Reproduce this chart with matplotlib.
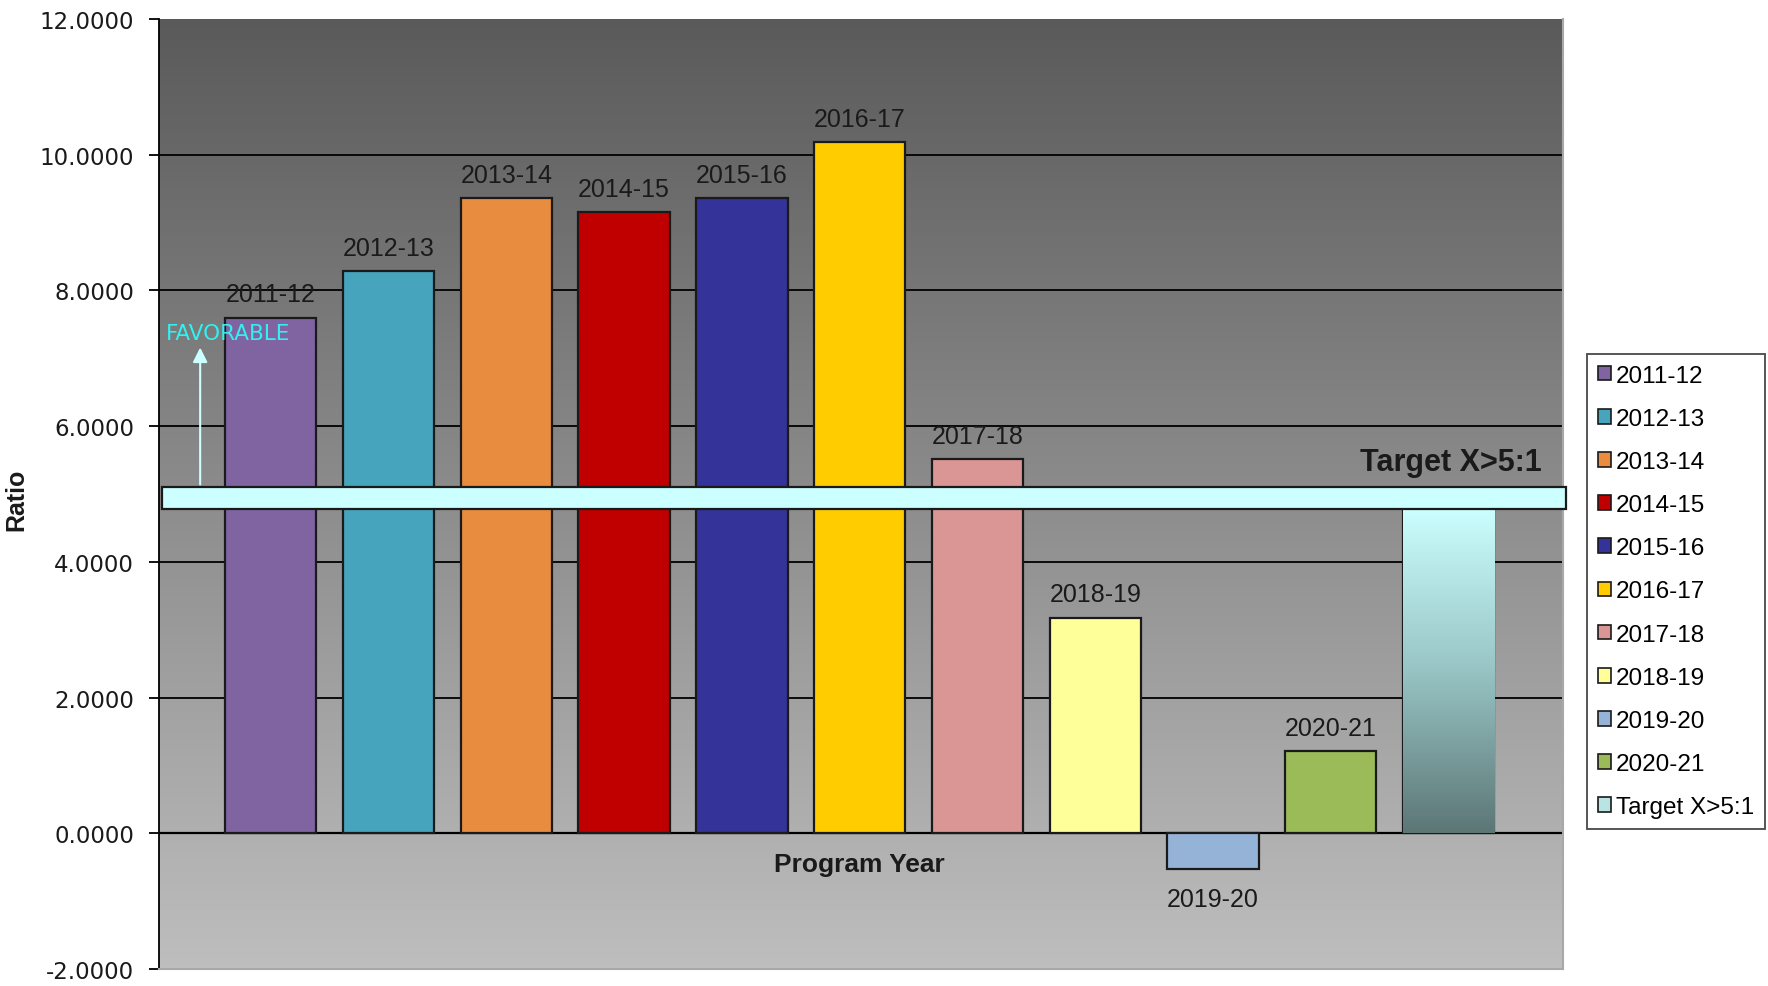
import numpy as np
import matplotlib
matplotlib.use('Agg')
import matplotlib.pyplot as plt
import matplotlib.transforms as mtransforms
from matplotlib.colors import LinearSegmentedColormap
from matplotlib.patches import Patch

plt.rcParams['font.family'] = ['Liberation Sans', 'DejaVu Sans']

# Data
years = ['2011-12', '2012-13', '2013-14', '2014-15', '2015-16', '2016-17',
         '2017-18', '2018-19', '2019-20', '2020-21', 'Target X>5:1']
ratios = [7.60, 8.28, 9.36, 9.15, 9.36, 10.19, 5.52, 3.18, -0.53, 1.21, 5.0]
colors = ['#8064a2', '#46a5bd', '#e88c40', '#c00000', '#333399', '#ffcc00',
          '#da9694', '#ffff99', '#95b3d7', '#9bbb59', '#b8e4e4']
target = 5.0
y_ticks = [-2, 0, 2, 4, 6, 8, 10, 12]

fig = plt.figure(figsize=(17.68, 9.87), dpi=100)
ax = fig.add_axes([0.0899, 0.0172, 0.794, 0.9625])

x = np.arange(len(years))
xlim = (-0.95, 10.97)
ylim = (-2, 12)
ax.set_xlim(xlim)
ax.set_ylim(ylim)

# plot area gradient background
bg_cmap = LinearSegmentedColormap.from_list('bg', ['#bebebe', '#5a5a5a'])
grad = np.linspace(0, 1, 256).reshape(-1, 1)
ax.imshow(grad, cmap=bg_cmap, origin='lower', aspect='auto',
          extent=[xlim[0], xlim[1], ylim[0], ylim[1]], zorder=0)

# gridlines
for t in [2, 4, 6, 8, 10]:
    ax.axhline(t, color='black', lw=1.3, zorder=1)
ax.axhline(0, color='black', lw=1.6, zorder=1)

bars = ax.bar(x, ratios, width=0.775, color=colors, edgecolor='#1a1a1a',
              linewidth=1.6, zorder=2)

# gradient fill for the target bar
tb = bars[-1]
tb.set_facecolor('none')
tcmap = LinearSegmentedColormap.from_list('tg', ['#5c7676', '#98c4c4', '#ccffff'])
im = ax.imshow(grad, cmap=tcmap, origin='lower', aspect='auto',
               extent=[tb.get_x(), tb.get_x() + tb.get_width(), 0, 4.8],
               zorder=2)
im.set_clip_path(tb)

# value labels (category names)
for xi, v, name in zip(x[:-1], ratios[:-1], years[:-1]):
    if v >= 0:
        ax.annotate(name, (xi, v), xytext=(0, 8), textcoords='offset points',
                    ha='center', va='bottom', fontsize=18, color='#1a1a1a', zorder=5)
    else:
        ax.annotate(name, (xi, v), xytext=(0, -13), textcoords='offset points',
                    ha='center', va='top', fontsize=18, color='#1a1a1a', zorder=5)

# target band
ax.axhspan(target - 0.22, target + 0.1, xmin=0.002, xmax=1.002,
           facecolor='#ccffff', edgecolor='#1a1a1a', lw=1.6, zorder=3, clip_on=False)

# favorable arrow
ax.annotate('', xy=(-0.6, 7.2), xytext=(-0.6, target + 0.1),
            arrowprops=dict(arrowstyle='-|>', color='#ccffff', lw=1.5,
                            mutation_scale=22), zorder=4)
ax.text(-0.89, 7.38, 'FAVORABLE', color='#33f0f0', fontsize=15.5,
        fontfamily='DejaVu Sans', va='center', ha='left', zorder=5)

blend = mtransforms.blended_transform_factory(ax.transAxes, ax.transData)
ax.text(0.985, 5.47, 'Target X>5:1', transform=blend, ha='right', va='center',
        fontsize=22, fontweight='bold', color='#1a1a1a', zorder=5)

ax.text(0.499, -0.45, 'Program Year', transform=blend, ha='center', va='center',
        fontsize=19, fontweight='bold', color='#1a1a1a', zorder=5)

# axes styling
ax.set_yticks(y_ticks)
ax.set_yticklabels(['%.4f' % t for t in y_ticks], fontsize=16.5, color='#1a1a1a',
                   fontfamily='DejaVu Sans')
ax.tick_params(axis='y', direction='out', length=7, width=1.3, color='black', pad=11)
ax.set_xticks([])
ax.spines['top'].set_visible(False)
ax.spines['left'].set_color('black')
ax.spines['left'].set_linewidth(1.3)
ax.spines['right'].set_color('#a8a8a8')
ax.spines['bottom'].set_color('#a8a8a8')
ax.spines['right'].set_linewidth(1.5)
ax.spines['bottom'].set_linewidth(1.5)

fig.text(0.009, 0.494, 'Ratio', rotation=90, ha='center', va='center',
         fontsize=18, fontweight='bold', color='#1a1a1a',
         family=['Liberation Sans Narrow', 'Liberation Sans'])

# legend
handles = [Patch(facecolor=c, edgecolor='#1a1a1a', lw=1.2) for c in colors]
leg = fig.legend(handles, years, loc='upper left', bbox_to_anchor=(0.8975, 0.6405),
                 fontsize=17.5, frameon=True, fancybox=False, handlelength=0.55,
                 handleheight=0.55, handletextpad=0.2, labelspacing=0.87,
                 borderpad=0.45, borderaxespad=0)
leg.get_frame().set_edgecolor('#1a1a1a')
leg.get_frame().set_linewidth(1.3)

fig.savefig('out.png', dpi=100)
